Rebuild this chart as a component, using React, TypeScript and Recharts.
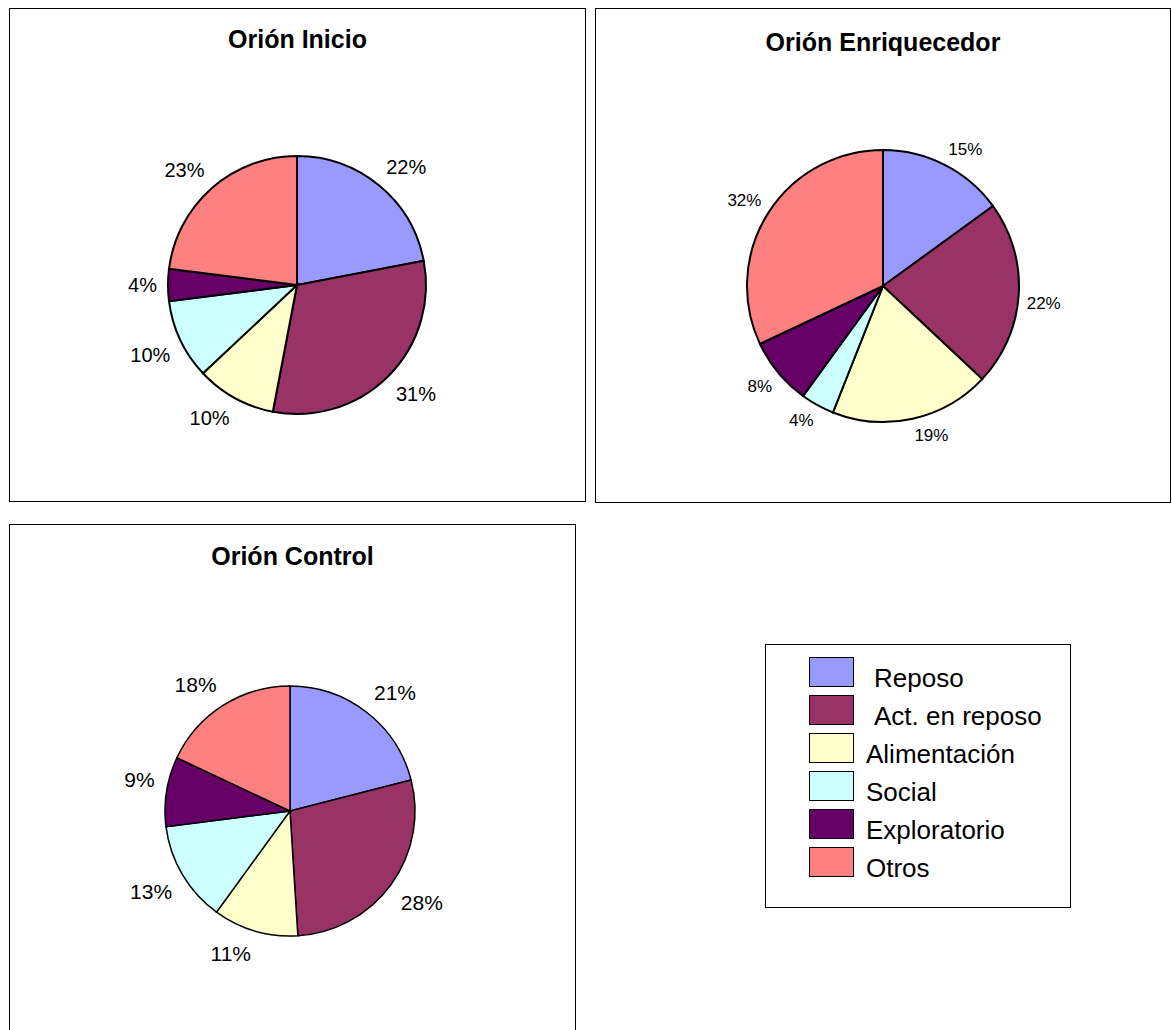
import React from "react";
import { PieChart, Pie, Cell } from "recharts";

const categories = ["Reposo", "Act. en reposo", "Alimentación", "Social", "Exploratorio", "Otros"];
const colors = ["#9999FF", "#993366", "#FFFFCC", "#CCFFFF", "#660066", "#FF8080"];

const inicioValues = [22, 31, 10, 10, 4, 23];
const enriquecedorValues = [15, 22, 19, 4, 8, 32];
const controlValues = [21, 28, 11, 13, 9, 18];

const FONT = "'Liberation Sans', Arial, Helvetica, sans-serif";
const RAD = Math.PI / 180;

// label box sits outside the slice: its inner corner touches a circle just past the rim
function makeLabel(gap: number, fs: number) {
  return (props: any) => {
    const { cx, cy, midAngle, outerRadius, value } = props;
    const text = `${value}%`;
    const w = fs * (0.556 * (text.length - 1) + 0.889);
    const h = fs;
    const cos = Math.cos(-midAngle * RAD);
    const sin = Math.sin(-midAngle * RAD);
    const R = outerRadius + gap;
    const sx = Math.abs(cos) < 0.05 ? 0 : Math.sign(cos);
    const sy = Math.abs(sin) < 0.05 ? 0 : Math.sign(sin);
    return (
      <text
        x={cx + R * cos + sx * (w / 2)}
        y={cy + R * sin + sy * (h / 2)}
        textAnchor="middle"
        dominantBaseline="central"
        fontSize={fs}
        fontFamily={FONT}
        fill="#000"
      >
        {text}
      </text>
    );
  };
}

interface PanelProps {
  title: string;
  values: number[];
  left: number;
  top: number;
  width: number;
  height: number;
  cx: number;
  cy: number;
  r: number;
  gap: number;
  fontSize: number;
  titleY: number;
  strokeWidth: number;
}

function PiePanel(p: PanelProps) {
  const data = categories.map((name, i) => ({ name, value: p.values[i] }));
  return (
    <div
      style={{
        position: "absolute",
        left: p.left,
        top: p.top,
        width: p.width,
        height: p.height,
        border: "1px solid #000",
        boxSizing: "border-box",
        background: "#fff",
      }}
    >
      <div
        style={{
          position: "absolute",
          left: 0,
          right: 0,
          top: p.titleY - 15,
          height: 30,
          lineHeight: "30px",
          textAlign: "center",
          fontFamily: FONT,
          fontWeight: "bold",
          fontSize: 25,
          color: "#000",
        }}
      >
        {p.title}
      </div>
      <PieChart
        width={p.width - 2}
        height={p.height - 2}
        margin={{ top: 0, right: 0, bottom: 0, left: 0 }}
      >
        <Pie
          data={data}
          dataKey="value"
          nameKey="name"
          cx={p.cx}
          cy={p.cy}
          outerRadius={p.r}
          startAngle={90}
          endAngle={-270}
          stroke="#000"
          strokeWidth={p.strokeWidth}
          label={makeLabel(p.gap, p.fontSize)}
          labelLine={false}
          isAnimationActive={false}
        >
          {data.map((d, i) => (
            <Cell key={d.name} fill={colors[i]} />
          ))}
        </Pie>
      </PieChart>
    </div>
  );
}

const legendIndent = [8, 8, 0, 0, 0, 0];

function LegendBox() {
  return (
    <div
      style={{
        position: "absolute",
        left: 765,
        top: 644,
        width: 306,
        height: 264,
        border: "1px solid #000",
        boxSizing: "border-box",
        background: "#fff",
      }}
    >
      {categories.map((name, i) => (
        <React.Fragment key={name}>
          <div
            style={{
              position: "absolute",
              left: 43,
              top: 12 + i * 38,
              width: 45,
              height: 30,
              boxSizing: "border-box",
              border: "1.5px solid #000",
              background: colors[i],
            }}
          />
          <div
            style={{
              position: "absolute",
              left: 100 + legendIndent[i],
              top: 20 + i * 38,
              lineHeight: "26px",
              fontSize: 26,
              fontFamily: FONT,
              color: "#000",
              whiteSpace: "nowrap",
            }}
          >
            {name}
          </div>
        </React.Fragment>
      ))}
    </div>
  );
}

export default function App() {
  return (
    <div
      style={{
        position: "absolute",
        left: 0,
        top: 0,
        width: 1172,
        height: 1030,
        overflow: "hidden",
        background: "#fff",
      }}
    >
      <PiePanel
        title="Orión Inicio"
        values={inicioValues}
        left={9}
        top={8}
        width={577}
        height={494}
        cx={287}
        cy={276}
        r={129}
        gap={11}
        fontSize={20}
        titleY={30}
        strokeWidth={2}
      />
      <PiePanel
        title="Orión Enriquecedor"
        values={enriquecedorValues}
        left={595}
        top={8}
        width={576}
        height={495}
        cx={287}
        cy={277}
        r={136}
        gap={8}
        fontSize={17}
        titleY={33}
        strokeWidth={2}
      />
      <PiePanel
        title="Orión Control"
        values={controlValues}
        left={9}
        top={524}
        width={567}
        height={530}
        cx={280}
        cy={286}
        r={125}
        gap={12}
        fontSize={21}
        titleY={31}
        strokeWidth={1.5}
      />
      <LegendBox />
    </div>
  );
}
